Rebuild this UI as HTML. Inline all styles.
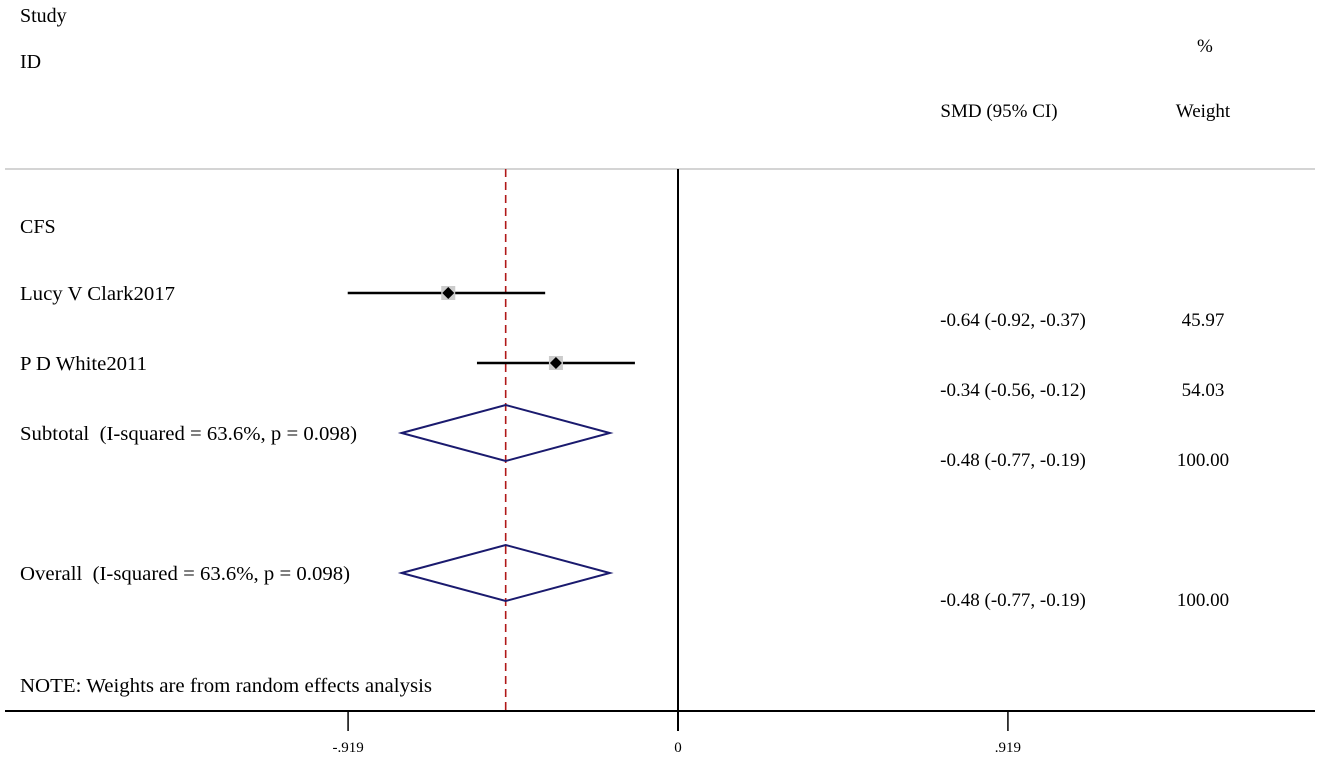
<!DOCTYPE html>
<html><head><meta charset="utf-8"><style>
body{margin:0;background:#fff}
svg{display:block;font-family:"Liberation Serif",serif;font-size:19px}
text{white-space:pre}
</style></head><body>
<svg id="c" width="1325" height="763">
<text x="20" y="22" font-size="20">Study</text>
<text x="20" y="68" font-size="20">ID</text>
<text x="1197" y="52">%</text>
<text x="999" y="117" text-anchor="middle">SMD (95% CI)</text>
<text x="1203" y="117" text-anchor="middle">Weight</text>
<line x1="5" y1="169" x2="1315" y2="169" stroke="#aaa" stroke-width="1"/>
<text x="20" y="233" font-size="20">CFS</text>
<text x="20" y="692" font-size="20" textLength="412" lengthAdjust="spacingAndGlyphs">NOTE: Weights are from random effects analysis</text>
<g id="g"></g>
</svg>
<script>
const studies=["Lucy V Clark2017","P D White2011"];
const est=[-0.64,-0.34];
const lo=[-0.92,-0.56];
const hi=[-0.37,-0.12];
const weights=["45.97","54.03"];
const pooledLabels=["Subtotal  (I-squared = 63.6%, p = 0.098)","Overall  (I-squared = 63.6%, p = 0.098)"];
const pooledEst=[-0.48,-0.48];
const pooledLo=[-0.77,-0.77];
const pooledHi=[-0.19,-0.19];
const pooledWeights=["100.00","100.00"];
const ticks=[-0.919,0,0.919];
const tickLabels=["-.919","0",".919"];
const X=v=>678+v*359;
const NS="http://www.w3.org/2000/svg";
const g=document.getElementById('g');
function mk(t,a,txt){const e=document.createElementNS(NS,t);for(const k in a)e.setAttribute(k,a[k]);if(txt!==undefined)e.textContent=txt;g.appendChild(e);return e;}
const f=v=>v.toFixed(2);
const studyLen=[155,127];
const pooledLen=[337,330];
let ax=mk('line',{x1:5,y1:711,x2:1315,y2:711,stroke:'#000','stroke-width':2});


let z=mk('line',{x1:X(0),y1:169,x2:X(0),y2:731,stroke:'#000','stroke-width':2});


let d=mk('line',{x1:X(pooledEst[1]),y1:169,x2:X(pooledEst[1]),y2:711,stroke:'#b01818','stroke-width':1.6,'stroke-dasharray':'8,5'});


ticks.forEach((t,i)=>{
 let l=mk('line',{x1:X(t),y1:711,x2:X(t),y2:731,stroke:'#000','stroke-width':1.5});
 
 
 let tx=mk('text',{x:X(t),y:752,'text-anchor':'middle','font-size':15},tickLabels[i]);
 
 
});
const sy=[293,363];
studies.forEach((s,i)=>{
 const y=sy[i];
 let t=mk('text',{x:20,y:y+7,'font-size':20,textLength:studyLen[i],lengthAdjust:'spacingAndGlyphs'},s);
 
 
 let l=mk('line',{x1:X(lo[i]),y1:y,x2:X(hi[i]),y2:y,stroke:'#000','stroke-width':2.5});
 
 
 const cx=X(est[i]);
 let b=mk('rect',{x:cx-7,y:y-7,width:14,height:14,fill:'#ccc'});
 
 
 let p=mk('polygon',{points:`${cx-6},${y} ${cx},${y-6} ${cx+6},${y} ${cx},${y+6}`,fill:'#000'});
 
 
 let e=mk('text',{x:1013,y:y+33,'text-anchor':'middle'},`${f(est[i])} (${f(lo[i])}, ${f(hi[i])})`);
 
 
 let w=mk('text',{x:1203,y:y+33,'text-anchor':'middle'},weights[i]);
 
 
});
const py=[433,573];
pooledLabels.forEach((s,i)=>{
 const y=py[i];
 let t=mk('text',{x:20,y:y+7,'font-size':20,textLength:pooledLen[i],lengthAdjust:'spacingAndGlyphs'},s);
 
 
 let p=mk('polygon',{points:`${X(pooledLo[i])},${y} ${X(pooledEst[i])},${y-28} ${X(pooledHi[i])},${y} ${X(pooledEst[i])},${y+28}`,fill:'none',stroke:'#1a1a6e','stroke-width':2});
 
 
 let e=mk('text',{x:1013,y:y+33,'text-anchor':'middle'},`${f(pooledEst[i])} (${f(pooledLo[i])}, ${f(pooledHi[i])})`);
 
 
 let w=mk('text',{x:1203,y:y+33,'text-anchor':'middle'},pooledWeights[i]);
 
 
});
</script>
</body></html>
